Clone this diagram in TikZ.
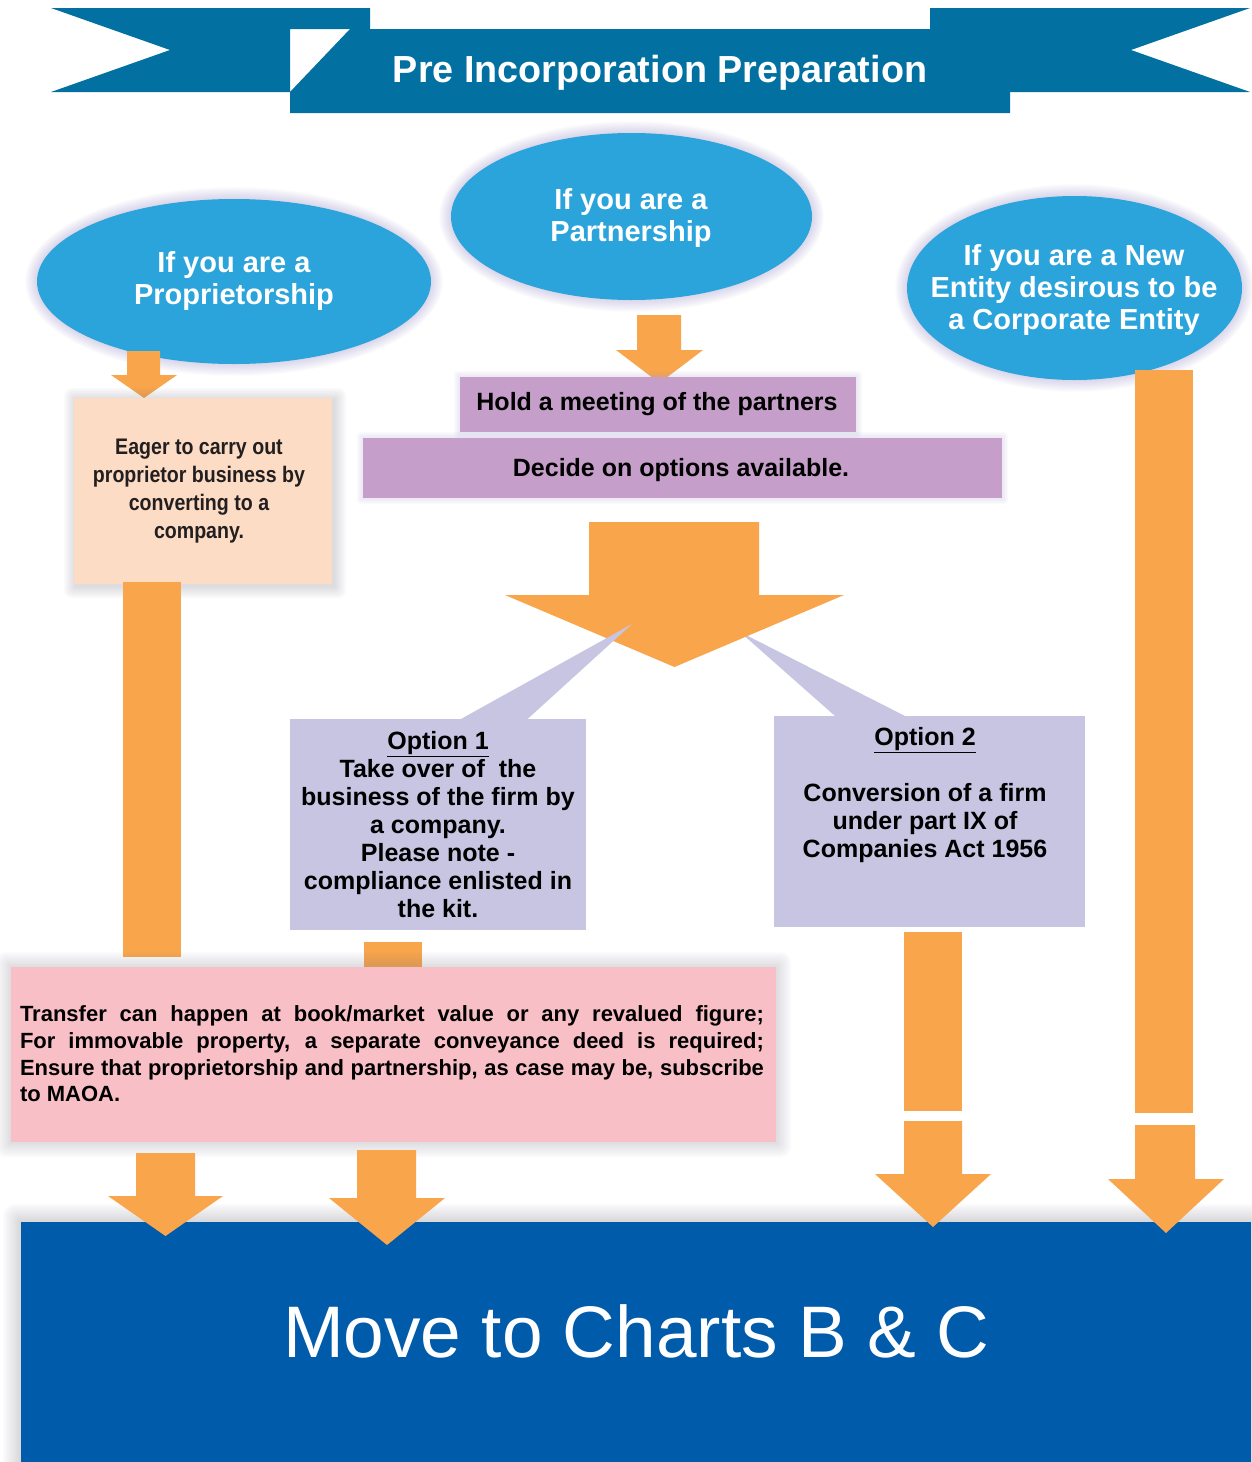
\documentclass[tikz,border=0pt]{standalone}
\usepackage{fontspec}
\setmainfont{Liberation Sans}
\newfontfamily\narrowfont[FakeStretch=0.87]{Liberation Sans}
\usetikzlibrary{shapes.geometric}
\definecolor{bannerblue}{RGB}{2,113,162}
\definecolor{ellblue}{RGB}{43,163,219}
\definecolor{arrowor}{RGB}{249,165,75}
\definecolor{peach}{RGB}{252,220,196}
\definecolor{mauve}{RGB}{197,159,201}
\definecolor{lavender}{RGB}{200,197,226}
\definecolor{pinkbox}{RGB}{248,191,199}
\definecolor{navy}{RGB}{0,91,170}
\definecolor{glowpurple}{RGB}{160,150,205}
\definecolor{shadowgray}{RGB}{120,120,135}
\definecolor{darktext}{RGB}{35,31,32}
\newcommand{\glowell}[4]{\foreach \k in {1,...,9}{\fill[glowpurple,opacity=0.045] (#1,#2) ellipse [x radius={#3pt+1.3pt*\k}, y radius={#4pt+1.3pt*\k}];}}
\newcommand{\glowrect}[7]{\foreach \k in {1,...,#6}{\fill[#5,opacity=#7,rounded corners=\k pt] ({#1-\k*1.5},{#2-\k*1.5}) rectangle ({#3+\k*1.5},{#4+\k*1.5});}}
\newcommand{\blockarrow}[7]{\fill[arrowor] (#1,#3) -- (#2,#3) -- (#2,#4) -- (#6,#4) -- ({(#5+#6)/2},#7) -- (#5,#4) -- (#1,#4) -- cycle;}
\tikzset{
  blob/.style={ellipse, fill=ellblue, inner sep=0pt},
  blobtext/.style={text=white, align=center, font=\fontsize{29}{32}\selectfont\bfseries},
  boxbase/.style={rectangle, inner sep=0pt, align=center},
  boxtext/.style={font=\fontsize{25}{28}\selectfont\bfseries, text=black},
}
\begin{document}
\begin{tikzpicture}[x=1pt,y=-1pt]
\useasboundingbox (0,0) rectangle (1251,1462);
\fill[white] (0,0) rectangle (1251,1462);

% banner
\fill[bannerblue] (51,8) -- (370,8) -- (370,29) -- (290,29) -- (290,92) -- (51,92) -- (170,50) -- cycle;
\fill[bannerblue] (350,29) -- (1010,29) -- (1010,113) -- (290,113) -- (290,92) -- cycle;
\fill[bannerblue] (930,8) -- (1250,8) -- (1131,50) -- (1250,92) -- (1010,92) -- (1010,29) -- (930,29) -- cycle;
\node[text=white, font=\fontsize{37.7}{40}\selectfont\bfseries] (title) at (660,73) {Pre Incorporation Preparation};

% ellipses
\glowell{234}{281.5}{197}{82.5}
\glowell{631.5}{216.5}{180.5}{83.5}
\glowell{1074.5}{288}{167.5}{92}
\node[blob, minimum width=394pt, minimum height=165pt] (prop) at (234,281.5) {};
\node[blob, minimum width=361pt, minimum height=167pt] (part) at (631.5,216.5) {};
\node[blob, minimum width=335pt, minimum height=184pt] (newent) at (1074.5,288) {};
\node[blobtext] (proptext) at (234,281) {If you are a\\Proprietorship};
\node[blobtext] (parttext) at (631,217.5) {If you are a\\Partnership};
\node[blobtext] (newtext) at (1074,290) {If you are a New\\Entity desirous to be\\a Corporate Entity};

% arrows from ellipses
\blockarrow{127}{160}{351}{375}{111}{177}{398}
\blockarrow{637}{681}{315}{350}{616}{703}{383}
\fill[arrowor] (1135,370) rectangle (1193,1113);

% Eager box
\glowrect{76}{400}{334}{586}{shadowgray}{8}{0.03}
\node[boxbase, fill=peach, minimum width=258pt, minimum height=186pt] (eager) at (203,491) {};
\node[text=darktext, align=center, font=\narrowfont\fontsize{22.5}{28}\selectfont\bfseries] (eagertext) at (199,491) {Eager to carry out\\proprietor business by\\converting to a\\company.};
\fill[arrowor] (123,582) rectangle (181,957);

% Hold / Decide boxes
\glowrect{460}{377}{856}{432}{glowpurple}{4}{0.05}
\glowrect{363}{438}{1002}{498}{glowpurple}{4}{0.05}
\node[boxbase, fill=mauve, minimum width=396pt, minimum height=55pt] (hold) at (658,404.5) {};
\node[boxtext] (holdtext) at (657,404) {Hold a meeting of the partners};
\node[boxbase, fill=mauve, minimum width=639pt, minimum height=60pt] (decide) at (682.5,468) {};
\node[boxtext] (decidetext) at (681,470) {Decide on options available.};

% callout wedges and big arrow
\fill[lavender] (740,632) -- (905,716) -- (835,716) -- cycle;
\blockarrow{589}{759}{522}{595}{505}{844}{667}
\fill[lavender] (632,624) -- (527,719.5) -- (460,719.5) -- cycle;

% option boxes
\node[boxbase, fill=lavender, minimum width=296pt, minimum height=211pt] (opt1) at (438,824.5) {};
\node[boxtext, align=center] (opt1text) at (438,825) {\underline{Option 1}\\Take over of\ \ the\\business of the firm by\\a company.\\Please note -\\compliance enlisted in\\the kit.};
\node[boxbase, fill=lavender, minimum width=311pt, minimum height=211pt] (opt2) at (929.5,821.5) {};
\node[boxtext, align=center] (opt2text) at (925,795) {\underline{Option 2}\\\strut\\Conversion of a firm\\under part IX of\\Companies Act 1956};

% shafts below options
\fill[arrowor] (364,942) rectangle (422,967);
\fill[arrowor] (904,932) rectangle (962,1111);

% pink box
\glowrect{11}{967}{776}{1142}{shadowgray}{10}{0.025}
\node[boxbase, fill=pinkbox, minimum width=765pt, minimum height=175pt] (pink) at (393.5,1054.5) {};
\node[text width=744pt, align=justify, inner sep=0pt, font=\fontsize{22}{26.7}\selectfont\bfseries] (pinktext) at (392,1054) {Transfer can happen at book/market value or any revalued figure;\linebreak For immovable property, a separate conveyance deed is required;\linebreak Ensure that proprietorship and partnership, as case may be, subscribe to MAOA.};

% bottom box
\glowrect{21}{1222}{1251}{1470}{shadowgray}{12}{0.022}
\node[boxbase, fill=navy, minimum width=1230pt, minimum height=240pt] (charts) at (636,1342) {};
\node[text=white, font=\fontsize{73}{80}\selectfont] (chartstext) at (636,1331) {Move to Charts B \& C};

% arrows into bottom box
\blockarrow{136}{195}{1153}{1196}{108}{223}{1236}
\blockarrow{357}{416}{1150}{1198}{329}{445}{1245}
\blockarrow{904}{962}{1121}{1174}{875}{991}{1227}
\blockarrow{1135}{1195}{1125}{1179}{1108}{1224}{1233}
\end{tikzpicture}
\end{document}
